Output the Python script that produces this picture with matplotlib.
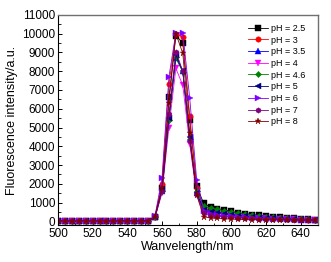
import matplotlib

matplotlib.use("Agg")
import matplotlib.pyplot as plt
from matplotlib.ticker import MultipleLocator

plt.rcParams["font.family"] = ["Liberation Sans", "DejaVu Sans"]

# wavelength grid, nm
wavelength = list(range(500, 652, 4))

flat = [20] * 14  # 500..552

ph25 = flat + [250, 1800, 6600, 9900, 9500, 5400, 1900, 950, 760, 680, 600, 530, 450,
               410, 360, 320, 270, 235, 210, 180, 150, 115, 100, 95]
ph3 = flat + [280, 2000, 7300, 10000, 9800, 5600, 1800, 700, 560, 480, 440, 380, 330,
              290, 250, 220, 200, 180, 160, 140, 120, 100, 90, 85]
ph35 = flat + [220, 1600, 5500, 8700, 8000, 4400, 1500, 650, 540, 480, 430, 370, 330,
               290, 250, 220, 195, 175, 150, 130, 110, 95, 85, 80]
ph4 = flat + [200, 1500, 5000, 8150, 7250, 4100, 1400, 500, 380, 330, 290, 250, 220,
              200, 180, 160, 150, 140, 125, 110, 100, 90, 80, 75]
ph46 = flat + [230, 1600, 5400, 8750, 7950, 4400, 1600, 800, 700, 630, 560, 490, 430,
               380, 330, 290, 250, 220, 195, 170, 145, 125, 105, 95]
ph5 = flat + [240, 1700, 5500, 8850, 8000, 4500, 1500, 600, 480, 430, 380, 330, 290,
              260, 230, 200, 180, 160, 140, 125, 110, 95, 85, 80]
ph6 = flat + [300, 2300, 7700, 10050, 10050, 6550, 2200, 550, 400, 340, 300, 260, 230,
              210, 190, 170, 150, 135, 120, 110, 100, 90, 80, 75]
ph7 = flat + [260, 1600, 5700, 9050, 8000, 4300, 1450, 450, 320, 270, 240, 210, 190,
              170, 155, 140, 130, 120, 110, 100, 90, 80, 75, 70]
ph8 = flat + [250, 1800, 6300, 10000, 8950, 4700, 1400, 250, 170, 150, 130, 120, 110,
              100, 95, 90, 85, 80, 75, 70, 65, 60, 60, 60]

labels = ["pH = 2.5", "pH = 3", "pH = 3.5", "pH = 4", "pH = 4.6",
          "pH = 5", "pH = 6", "pH = 7", "pH = 8"]
series = [ph25, ph3, ph35, ph4, ph46, ph5, ph6, ph7, ph8]
colors = ["#000000", "#FF0000", "#0000FF", "#FF00FF", "#008000",
          "#000080", "#8000FF", "#800080", "#800000"]
markers = ["s", "o", "^", "v", "D", "<", ">", "h", "*"]

fig = plt.figure(figsize=(3.31, 2.62), dpi=100)
ax = fig.add_axes([0.175, 0.141, 0.786, 0.802])

for vals, lab, col, mk in zip(series, labels, colors, markers):
    ms = 4.8 if mk == "*" else 3.9
    if mk == "D":
        ms = 3.2
    ax.plot(wavelength, vals, color=col, linewidth=0.6, marker=mk,
            markersize=ms, markeredgewidth=0.3, label=lab)

ax.set_xlim(500, 650)
ax.set_ylim(-200, 11000)
ax.xaxis.set_minor_locator(MultipleLocator(10))
ax.yaxis.set_major_locator(MultipleLocator(1000))
ax.yaxis.set_minor_locator(MultipleLocator(500))
ax.set_xticks(range(500, 641, 20))
ax.tick_params(which="both", direction="in", top=False, right=False,
               labelsize=8.5, pad=2)
ax.tick_params(which="major", length=3, width=0.7)
ax.tick_params(which="minor", length=1.8, width=0.6)

for side in ["left", "bottom"]:
    ax.spines[side].set_color("black")
    ax.spines[side].set_linewidth(0.8)
for side in ["top", "right"]:
    ax.spines[side].set_color("#707070")
    ax.spines[side].set_linewidth(1.0)

ax.set_xlabel("Wanvelength/nm", fontsize=9, labelpad=1)
ax.set_ylabel("Fluorescence intensity/a.u.", fontsize=9, labelpad=3)

leg = ax.legend(loc="upper right", frameon=False, fontsize=6.5,
                handlelength=2.2, handletextpad=0.3, labelspacing=0.3,
                borderaxespad=0.0, bbox_to_anchor=(0.965, 0.975))

fig.savefig("out.png", dpi=100)
